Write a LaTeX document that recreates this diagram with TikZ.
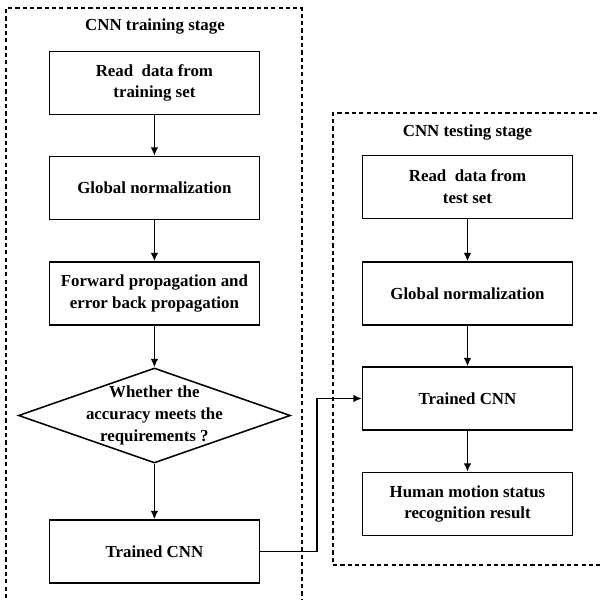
\documentclass[tikz,border=0pt]{standalone}
\usepackage{fontspec}
\setmainfont{Liberation Serif}
\usetikzlibrary{shapes.geometric, arrows.meta}

\tikzset{
	stage/.style={draw=black, line width=1.1pt, dash pattern=on 3pt off 2.2pt},
	stepbox/.style={draw=black, line width=1.1pt, minimum width=5.25cm, minimum height=1.575cm, align=center, font=\fontsize{12}{15.5}\selectfont\bfseries},
	title/.style={font=\fontsize{12}{15.5}\selectfont\bfseries},
	flow/.style={-{Latex[length=6pt,width=5.5pt]}, line width=1.1pt, black}
}

\begin{document}
\begin{tikzpicture}
				
				\useasboundingbox (0,0) rectangle (15,15);
				
				% dashed stage frames
				\draw[stage] (0.15,-0.5) -- (0.15,14.8) -- (7.55,14.8) -- (7.55,-0.5);
				\draw[stage] (15.3,12.175) -- (8.325,12.175) -- (8.325,0.875) -- (15.3,0.875);
				
				\node[title] (traintitle) at (3.875,14.325) {CNN training stage};
				
				\node[stepbox] (readtrain) at (3.86,12.925) {Read \ data from\\training set};
				
				\node[stepbox] (normtrain) at (3.86,10.3) {Global normalization};
				
				\node[stepbox] (propagate) at (3.86,7.6625) {Forward propagation and\\error back propagation};
				
				\node[diamond, draw=black, line width=1.1pt, minimum width=6.8cm, minimum height=2.375cm, inner sep=0pt] (check) at (3.86,4.6125) {};
				
				\node[title, align=center] (checktext) at (check.center) {Whether the\\accuracy meets the\\requirements ?};
				
				\node[stepbox] (trainedL) at (3.86,1.2125) {Trained CNN};
				
				\node[title] (testtitle) at (11.6875,11.675) {CNN testing stage};
				
				\node[stepbox] (readtest) at (11.6875,10.325) {Read \ data from\\test set};
				
				\node[stepbox] (normtest) at (11.6875,7.6625) {Global normalization};
				
				\node[stepbox] (trainedR) at (11.6875,5.0375) {Trained CNN};
				
				\node[stepbox] (result) at (11.6875,2.4) {Human motion status\\recognition result};
				
				\coordinate (turn) at (7.925,3);
				
				\draw[flow] (readtrain) -- (normtrain);
				\draw[flow] (normtrain) -- (propagate);
				\draw[flow] (propagate) -- (check);
				\draw[flow] (check) -- (trainedL);
				
				\draw[flow] (readtest) -- (normtest);
				\draw[flow] (normtest) -- (trainedR);
				\draw[flow] (trainedR) -- (result);
				
				\draw[flow] (trainedL.east) -| (turn |- trainedR.west) -- (trainedR.west);
				
\end{tikzpicture}
\end{document}
